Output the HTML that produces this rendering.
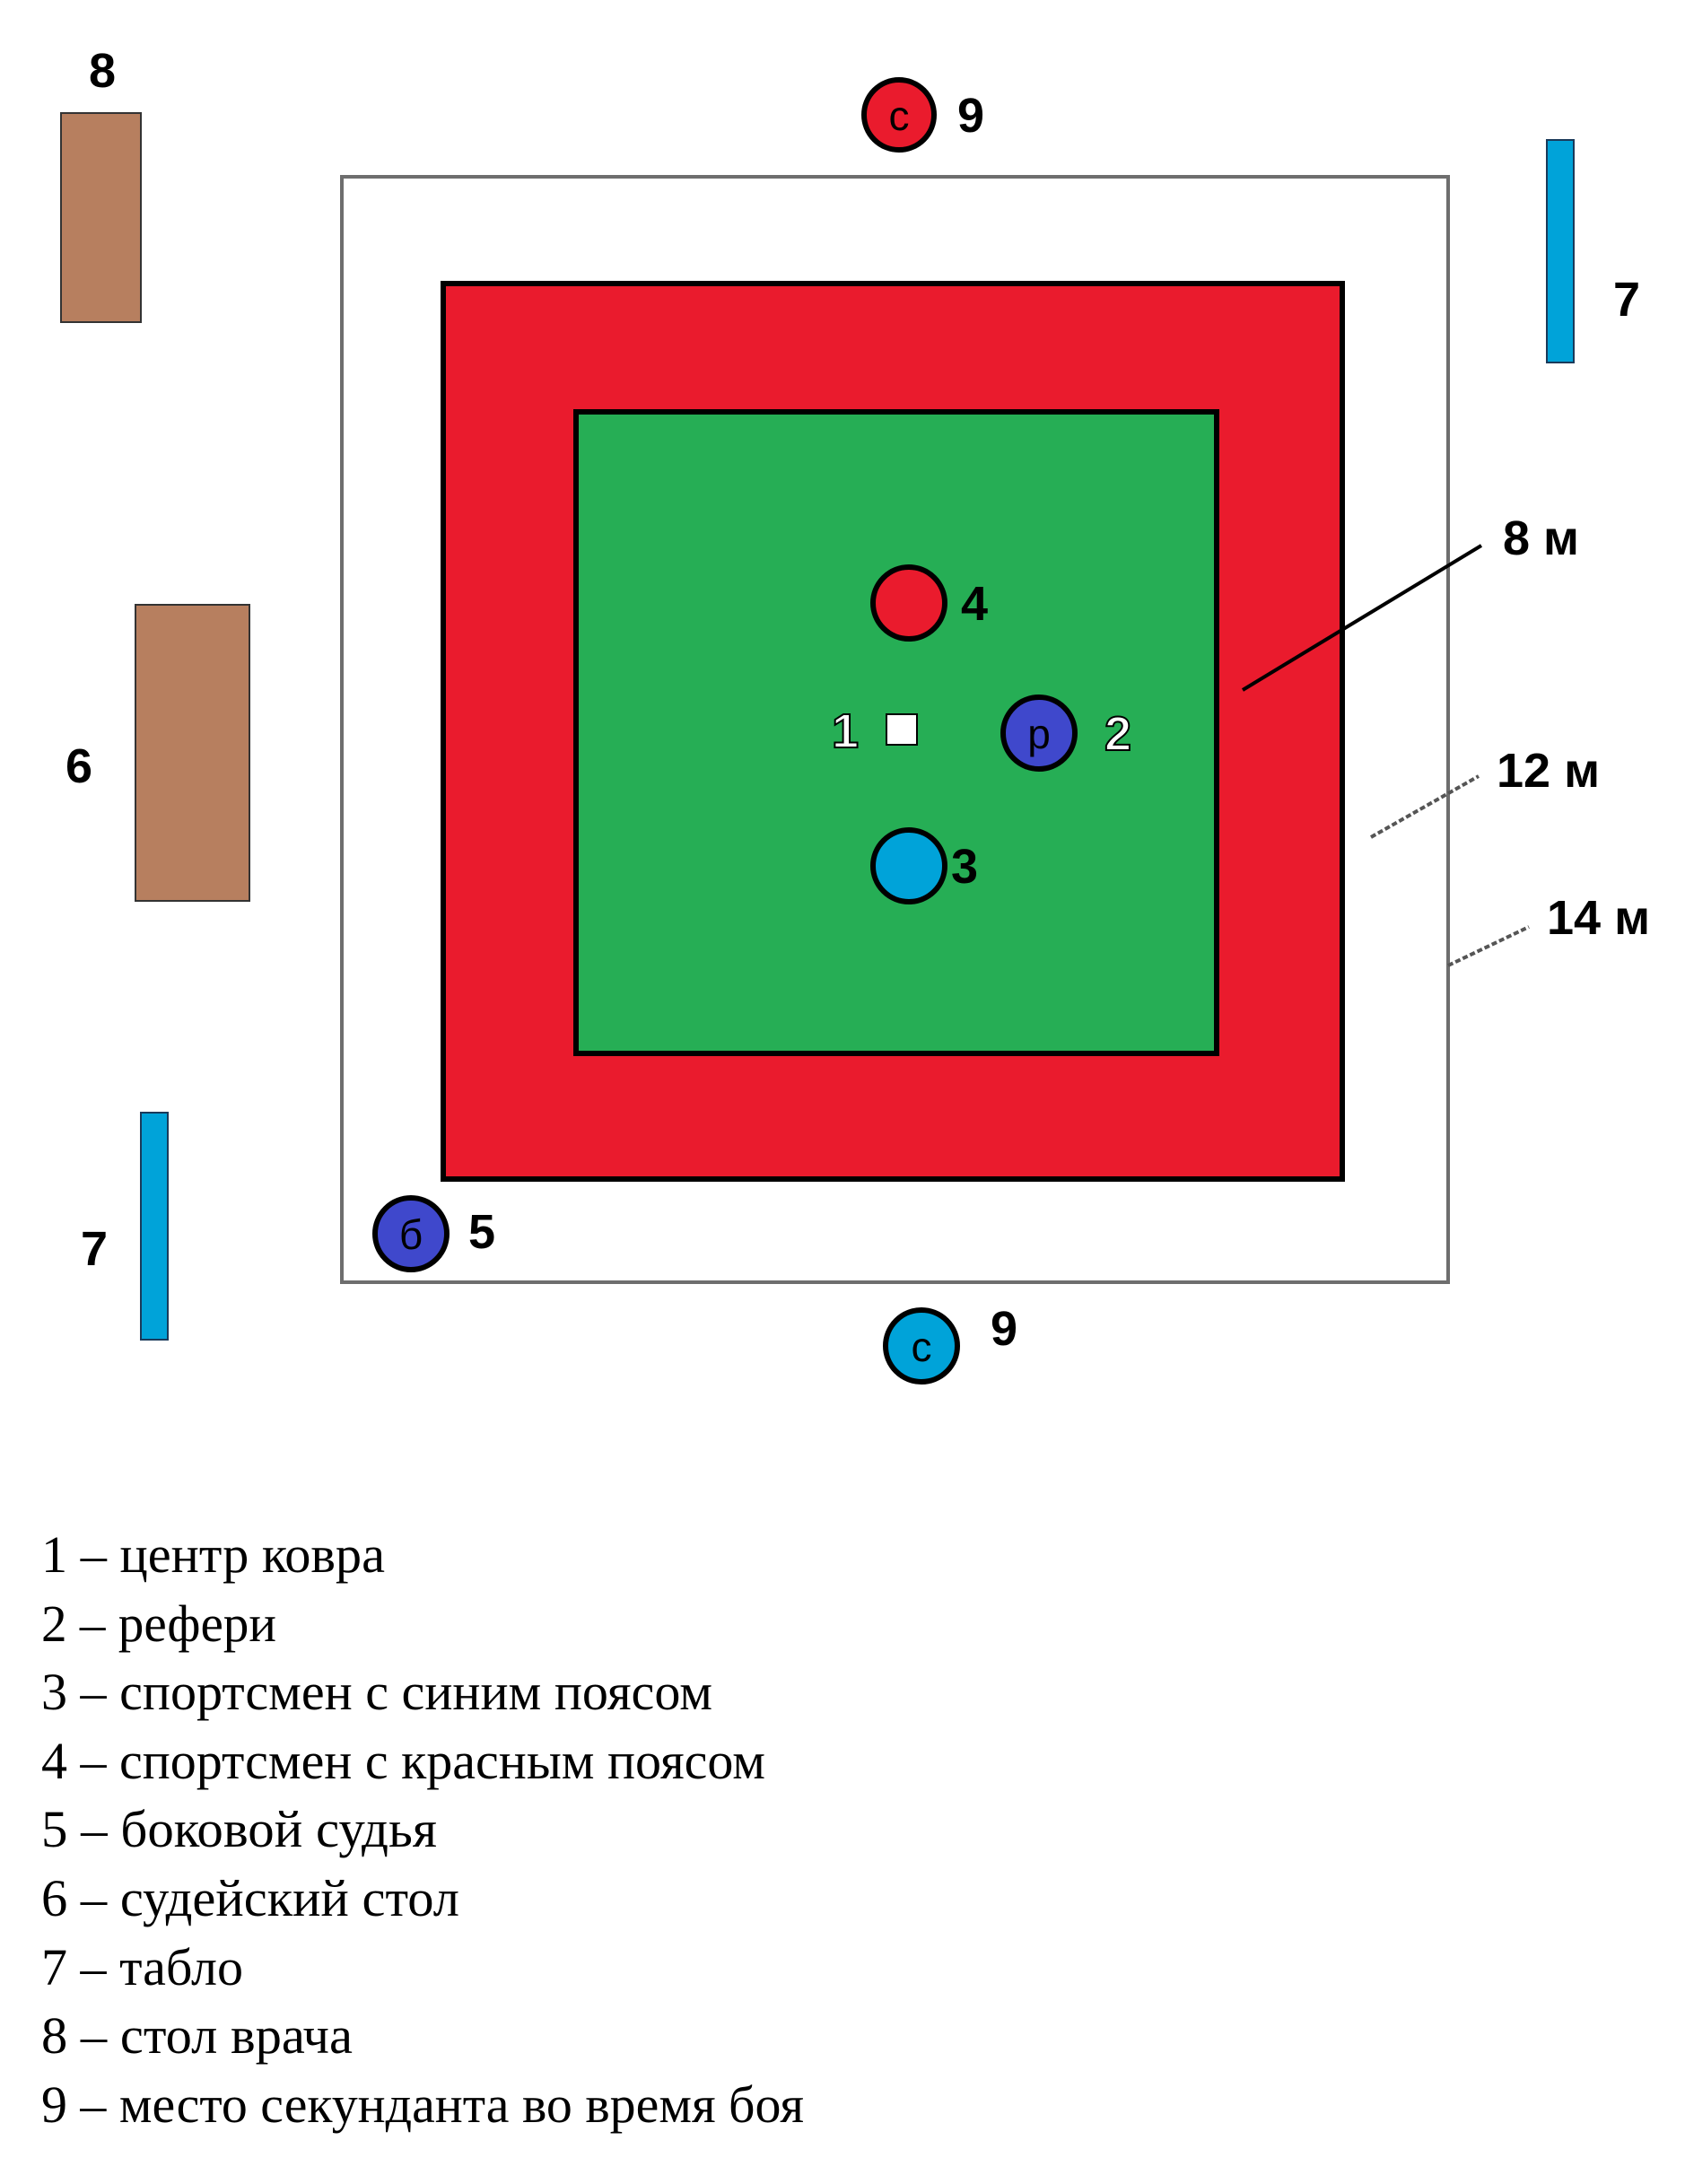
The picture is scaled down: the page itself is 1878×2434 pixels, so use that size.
<!DOCTYPE html>
<html><head><meta charset="utf-8"><style>
html,body{margin:0;padding:0;background:#fff;}
svg{display:block;}
.l{font-family:"Liberation Sans",sans-serif;font-weight:bold;font-size:54px;fill:#000;}
.g{font-family:"Liberation Serif",serif;font-size:58px;fill:#000;}
.c{font-family:"Liberation Sans",sans-serif;font-size:46px;fill:#000;}
</style></head><body>
<svg width="1878" height="2434" viewBox="0 0 1878 2434" xmlns="http://www.w3.org/2000/svg">
<rect x="381" y="197" width="1233" height="1232" fill="#fff" stroke="#6e6e6e" stroke-width="4"/>
<rect x="494" y="316" width="1002" height="998" fill="#ea1b2d" stroke="#000" stroke-width="6"/>
<rect x="642" y="459" width="714" height="715" fill="#26ae55" stroke="#000" stroke-width="6"/>

<rect x="68" y="126" width="89" height="233" fill="#b77f5f" stroke="#333" stroke-width="2"/>
<rect x="151" y="674" width="127" height="330" fill="#b77f5f" stroke="#333" stroke-width="2"/>
<rect x="1724" y="156" width="30" height="248" fill="#00a3d9" stroke="#1a3a5a" stroke-width="2"/>
<rect x="157" y="1240" width="30" height="253" fill="#00a3d9" stroke="#1a3a5a" stroke-width="2"/>

<text class="l" x="114" y="97" text-anchor="middle">8</text>
<text class="l" x="88" y="872" text-anchor="middle">6</text>
<text class="l" x="1813" y="352" text-anchor="middle">7</text>
<text class="l" x="105" y="1410" text-anchor="middle">7</text>

<circle cx="1002" cy="128" r="39" fill="#ea1b2d" stroke="#000" stroke-width="6"/>
<text class="c" x="1002" y="145" text-anchor="middle">с</text>
<text class="l" x="1082" y="147" text-anchor="middle">9</text>

<circle cx="1027" cy="1500" r="40" fill="#00a3d9" stroke="#000" stroke-width="6"/>
<text class="c" x="1027" y="1517" text-anchor="middle">с</text>
<text class="l" x="1119" y="1499" text-anchor="middle">9</text>

<circle cx="1013" cy="672" r="40" fill="#ea1b2d" stroke="#000" stroke-width="6"/>
<text class="l" x="1086" y="691" text-anchor="middle">4</text>

<rect x="988" y="796" width="34" height="34" fill="#fff" stroke="#000" stroke-width="2"/>
<text class="l" x="942" y="833" text-anchor="middle" style="fill:#fff;stroke:#000;stroke-width:2">1</text>

<circle cx="1158" cy="817" r="40" fill="#3f48cc" stroke="#000" stroke-width="6"/>
<text class="c" x="1158" y="834" text-anchor="middle">р</text>
<text class="l" x="1246" y="836" text-anchor="middle" style="fill:#fff;stroke:#000;stroke-width:2">2</text>

<circle cx="1013" cy="965" r="40" fill="#00a3d9" stroke="#000" stroke-width="6"/>
<text class="l" x="1075" y="984" text-anchor="middle">3</text>

<circle cx="458" cy="1375" r="40" fill="#3f48cc" stroke="#000" stroke-width="6"/>
<text class="c" x="458" y="1392" text-anchor="middle">б</text>
<text class="l" x="537" y="1391" text-anchor="middle">5</text>

<line x1="1385" y1="769" x2="1651" y2="608" stroke="#000" stroke-width="4"/>
<text class="l" x="1675" y="618">8 м</text>
<line x1="1528" y1="933" x2="1648" y2="865" stroke="#555" stroke-width="4" stroke-dasharray="6,3"/>
<text class="l" x="1668" y="877">12 м</text>
<line x1="1614" y1="1076" x2="1704" y2="1033" stroke="#555" stroke-width="4" stroke-dasharray="6,3"/>
<text class="l" x="1724" y="1041">14 м</text>

<text class="g" x="46" y="1752" textLength="383" lengthAdjust="spacingAndGlyphs">1 – центр ковра</text>
<text class="g" x="46" y="1829" textLength="262" lengthAdjust="spacingAndGlyphs">2 – рефери</text>
<text class="g" x="46" y="1905" textLength="748" lengthAdjust="spacingAndGlyphs">3 – спортсмен с синим поясом</text>
<text class="g" x="46" y="1982" textLength="807" lengthAdjust="spacingAndGlyphs">4 – спортсмен с красным поясом</text>
<text class="g" x="46" y="2058" textLength="441" lengthAdjust="spacingAndGlyphs">5 – боковой судья</text>
<text class="g" x="46" y="2135" textLength="466" lengthAdjust="spacingAndGlyphs">6 – судейский стол</text>
<text class="g" x="46" y="2212" textLength="225" lengthAdjust="spacingAndGlyphs">7 – табло</text>
<text class="g" x="46" y="2288" textLength="347" lengthAdjust="spacingAndGlyphs">8 – стол врача</text>
<text class="g" x="46" y="2365" textLength="850" lengthAdjust="spacingAndGlyphs">9 – место секунданта во время боя</text>
</svg>
</body></html>
